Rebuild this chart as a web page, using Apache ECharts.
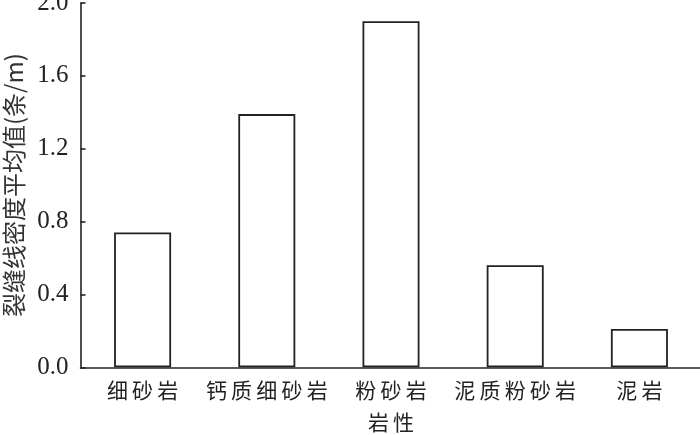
<!DOCTYPE html>
<html><head><meta charset="utf-8">
<script src="https://cdn.jsdelivr.net/npm/echarts@6/dist/echarts.min.js"></script>
<style>html,body{margin:0;padding:0;background:#fff}#c{width:700px;height:435px}</style>
</head><body><div id="c"></div>
<script>
const categories = ['细砂岩', '钙质细砂岩', '粉砂岩', '泥质粉砂岩', '泥岩'];
const densityValues = [0.74, 1.39, 1.90, 0.56, 0.21];
const yTicks = [0.0, 0.4, 0.8, 1.2, 1.6, 2.0];
const xName = '岩性';
const yName = '裂缝线密度平均值(条/m)';

const cjk = '"Noto Sans CJK SC", sans-serif';
const serif = '"Liberation Serif", "DejaVu Serif", serif';
const ink = '#222';
const spaced = s => Array.from(s).join('\u2009');

const chart = echarts.init(document.getElementById('c'), null, {renderer: 'canvas'});
chart.setOption({
  animation: false,
  backgroundColor: '#fff',
  grid: {left: 80.5, top: 3, width: 621, bottom: 67.7, containLabel: false, outerBoundsMode: 'none'},
  xAxis: {
    type: 'category',
    data: categories,
    name: spaced(xName),
    nameLocation: 'middle',
    nameGap: 44,
    nameTextStyle: {fontFamily: cjk, fontSize: 21, color: ink, verticalAlign: 'top'},
    axisLine: {lineStyle: {color: ink, width: 1.6}},
    axisTick: {inside: true, length: 6, alignWithLabel: false, lineStyle: {color: ink, width: 1.6}},
    axisLabel: {fontFamily: cjk, fontSize: 21, color: ink, margin: 12, interval: 0, hideOverlap: false,
      formatter: v => spaced(v)}
  },
  yAxis: {
    type: 'value',
    min: yTicks[0],
    max: yTicks[yTicks.length - 1],
    interval: 0.4,
    name: yName,
    nameLocation: 'middle',
    nameGap: 55,
    nameRotate: 90,
    nameTextStyle: {fontFamily: cjk, fontSize: 24, color: '#333'},
    axisLine: {show: true, lineStyle: {color: ink, width: 1.6}},
    axisTick: {show: true, inside: true, length: 5, lineStyle: {color: ink, width: 1.6}},
    splitLine: {show: false},
    axisLabel: {fontFamily: serif, fontSize: 25, color: ink, margin: 12, hideOverlap: false,
      formatter: v => v.toFixed(1)}
  },
  series: [{
    type: 'bar',
    data: densityValues,
    barWidth: 57,
    itemStyle: {color: '#fff', borderColor: ink, borderWidth: 1.8}
  }]
});
</script></body></html>
